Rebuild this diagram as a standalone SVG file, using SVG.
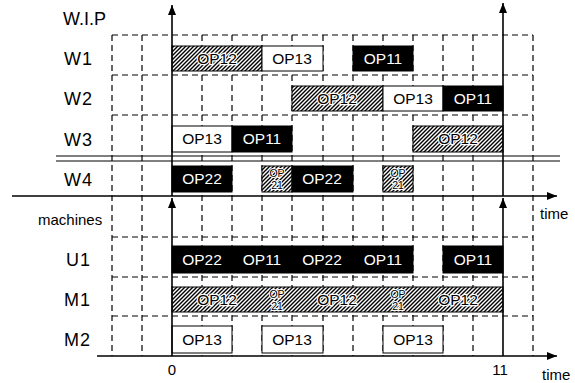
<svg xmlns="http://www.w3.org/2000/svg" width="575" height="383" viewBox="0 0 575 383">
<defs>
<pattern id="hatch" patternUnits="userSpaceOnUse" width="4" height="4">
<rect width="4" height="4" fill="#fff"/>
<path d="M-1,1 L1,-1 M0,4 L4,0 M3,5 L5,3" stroke="#000" stroke-width="1.4"/>
</pattern>
<marker id="arr" viewBox="0 0 10 8" refX="10" refY="4" markerWidth="10" markerHeight="8" markerUnits="userSpaceOnUse" orient="auto">
<path d="M0,0 L10,4 L0,8 z" fill="#000"/>
</marker>
</defs>
<style>
.grid{stroke:#000;stroke-width:1.2;stroke-dasharray:6 4;fill:none}
.ax{stroke:#000;stroke-width:1.6;fill:none}
.dbl{stroke:#000;stroke-width:1.1;fill:none}
.lab{font-family:"Liberation Sans",Arial,sans-serif;font-size:18px;fill:#000}
.small{font-family:"Liberation Sans",Arial,sans-serif;font-size:15px;fill:#000}
.op{font-family:"Liberation Sans",Arial,sans-serif;font-size:15.5px;text-anchor:middle}
.bk{fill:#000;stroke:#000;stroke-width:1}
.wh{fill:#fff;stroke:#000;stroke-width:1}
.ht{fill:url(#hatch);stroke:#000;stroke-width:1}
.tw{fill:#fff}
.tb{fill:#000}
.th{fill:#000;stroke:#fff;stroke-width:2.5;paint-order:stroke}
.op2{font-family:"Liberation Sans",Arial,sans-serif;font-size:10.5px;text-anchor:middle;fill:#000;stroke:#fff;stroke-width:2;paint-order:stroke}
</style>
<rect width="575" height="383" fill="#fff"/>
<g id="grid">
<path class="grid" d="M112,35V356M142,35V356M202,35V356M232,35V356M262,35V356M292,35V356M323,35V356M353,35V356M383,35V356M413,35V356M443,35V356M473,35V356M533,35V356"/>
<path class="grid" d="M112,35H533M112,75H533M112,115H533M112,237H533M112,277H533M112,316H533"/>
<path class="dbl" d="M56,156H560M56,161H560"/>
</g>
<g id="labels">
<text class="lab" x="63" y="25">W.I.P</text>
<text class="lab" x="64" y="65" letter-spacing="1">W1</text>
<text class="lab" x="64" y="105" letter-spacing="1">W2</text>
<text class="lab" x="64" y="146" letter-spacing="1">W3</text>
<text class="lab" x="64" y="186" letter-spacing="1">W4</text>
<text class="small" x="38" y="225">machines</text>
<text class="lab" x="66" y="266" letter-spacing="1">U1</text>
<text class="lab" x="64" y="306" letter-spacing="1">M1</text>
<text class="lab" x="64" y="346" letter-spacing="1">M2</text>
<text class="small" x="172" y="375" text-anchor="middle">0</text>
<text class="small" x="500" y="375" text-anchor="middle">11</text>
<text class="small" x="540" y="219">time</text>
<text class="small" x="542" y="380">time</text>
</g>
<g id="W1">
<rect class="ht" x="172" y="46" width="90" height="25"/><text class="op th" x="217" y="64">OP12</text>
<rect class="wh" x="262" y="46" width="61" height="25"/><text class="op tb" x="292" y="64">OP13</text>
<rect class="bk" x="353" y="46" width="60" height="25"/><text class="op tw" x="383" y="64">OP11</text>
</g>
<g id="W2">
<rect class="ht" x="292" y="86" width="91" height="25"/><text class="op th" x="337" y="104">OP12</text>
<rect class="wh" x="383" y="86" width="60" height="25"/><text class="op tb" x="413" y="104">OP13</text>
<rect class="bk" x="443" y="86" width="60" height="25"/><text class="op tw" x="473" y="104">OP11</text>
</g>
<g id="W3">
<rect class="wh" x="172" y="126" width="60" height="26"/><text class="op tb" x="202" y="144">OP13</text>
<rect class="bk" x="232" y="126" width="60" height="26"/><text class="op tw" x="262" y="144">OP11</text>
<rect class="ht" x="413" y="126" width="90" height="26"/><text class="op th" x="458" y="144">OP12</text>
</g>
<g id="W4">
<rect class="bk" x="172" y="166" width="60" height="26"/><text class="op tw" x="202" y="184">OP22</text>
<rect class="ht" x="262" y="166" width="30" height="26"/><text class="op2" x="277" y="177">OP</text><text class="op2" x="277" y="189">21</text>
<rect class="bk" x="292" y="166" width="61" height="26"/><text class="op tw" x="322" y="184">OP22</text>
<rect class="ht" x="383" y="166" width="30" height="26"/><text class="op2" x="398" y="177">OP</text><text class="op2" x="398" y="189">21</text>
</g>
<g id="U1">
<rect class="bk" x="172" y="246" width="241" height="27"/>
<text class="op tw" x="202" y="265">OP22</text>
<text class="op tw" x="262" y="265">OP11</text>
<text class="op tw" x="322" y="265">OP22</text>
<text class="op tw" x="383" y="265">OP11</text>
<rect class="bk" x="443" y="246" width="60" height="27"/><text class="op tw" x="473" y="265">OP11</text>
</g>
<g id="M1">
<rect class="ht" x="172" y="287" width="331" height="25"/>
<text class="op th" x="217" y="305">OP12</text>
<text class="op2" x="277" y="298">OP</text><text class="op2" x="277" y="310">21</text>
<text class="op th" x="337" y="305">OP12</text>
<text class="op2" x="398" y="298">OP</text><text class="op2" x="398" y="310">21</text>
<text class="op th" x="458" y="305">OP12</text>
</g>
<g id="M2">
<rect class="wh" x="172" y="326" width="60" height="27"/><text class="op tb" x="202" y="345">OP13</text>
<rect class="wh" x="262" y="326" width="61" height="27"/><text class="op tb" x="292" y="345">OP13</text>
<rect class="wh" x="383" y="326" width="60" height="27"/><text class="op tb" x="413" y="345">OP13</text>
</g>
<g id="connectors">
<line class="ax" x1="12" y1="196" x2="557" y2="196" marker-end="url(#arr)"/>
<line class="ax" x1="97" y1="356" x2="557" y2="356" marker-end="url(#arr)"/>
<line class="ax" x1="172" y1="196" x2="172" y2="5" marker-end="url(#arr)"/>
<line class="ax" x1="503" y1="196" x2="503" y2="3" marker-end="url(#arr)"/>
<line class="ax" x1="172" y1="356" x2="172" y2="198" marker-end="url(#arr)"/>
<line class="ax" x1="503" y1="356" x2="503" y2="198" marker-end="url(#arr)"/>
</g>
</svg>
